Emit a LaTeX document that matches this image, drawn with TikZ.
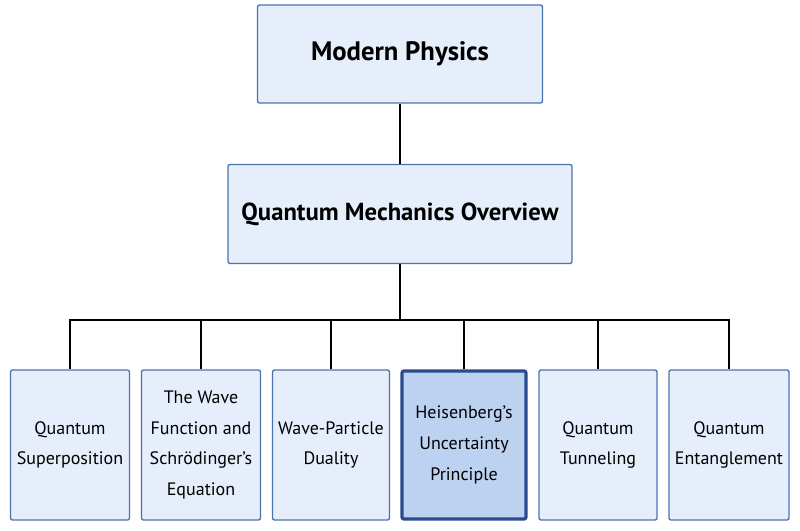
\documentclass[tikz,border=0pt]{standalone}
\usepackage{fontspec}
\setmainfont{PT Sans}
\begin{document}
\begin{tikzpicture}[x=0.75pt,y=-0.75pt,
 box/.style={draw=boxline,fill=boxfill,line width=1pt,align=center,inner sep=0pt,rounded corners=1.5pt},
 hl/.style={box,draw=hlline,fill=hlfill,line width=2.4pt},
 ln/.style={draw=black,line width=1.2pt}]
\definecolor{boxfill}{HTML}{E5EEFA}
\definecolor{boxline}{HTML}{4C73AE}
\definecolor{hlfill}{HTML}{BCD2F0}
\definecolor{hlline}{HTML}{284C8E}
\useasboundingbox (0,0) rectangle (800,531);
\node[box,minimum width=285*0.75pt,minimum height=98*0.75pt,font=\fontsize{20}{22}\selectfont\bfseries] (mp) at (400,54) {Modern Physics};
\node[box,minimum width=344*0.75pt,minimum height=99*0.75pt,font=\fontsize{18.5}{20}\selectfont\bfseries] (qm) at (400,214) {Quantum Mechanics Overview};
\foreach \n/\x/\w/\t in {a/70/119/{Quantum\\Superposition},b/201/119/{The Wave\\Function and\\Schrödinger’s\\Equation},c/331/117/{Wave-Particle\\Duality},e/598/118/{Quantum\\Tunneling},f/729/120/{Quantum\\Entanglement}}{
 \node[box,minimum width=\w*0.75pt,minimum height=150*0.75pt,font=\fontsize{13.5}{23}\selectfont] (\n) at (\x,445) {\t};
}
\node[hl,minimum width=124*0.75pt,minimum height=148*0.75pt,font=\fontsize{13.5}{23}\selectfont] (d) at (464,445) {Heisenberg’s\\Uncertainty\\Principle};
\coordinate (bus) at (400,320);
\draw[ln] (mp.south) -- (qm.north);
\draw[ln] (qm.south) -- (bus);
\draw[ln] (a.north) |- (bus) -| (f.north);
\foreach \n in {b,c,d,e}{\draw[ln] (\n.north) -- (\n.north |- bus);}
\end{tikzpicture}
\end{document}
